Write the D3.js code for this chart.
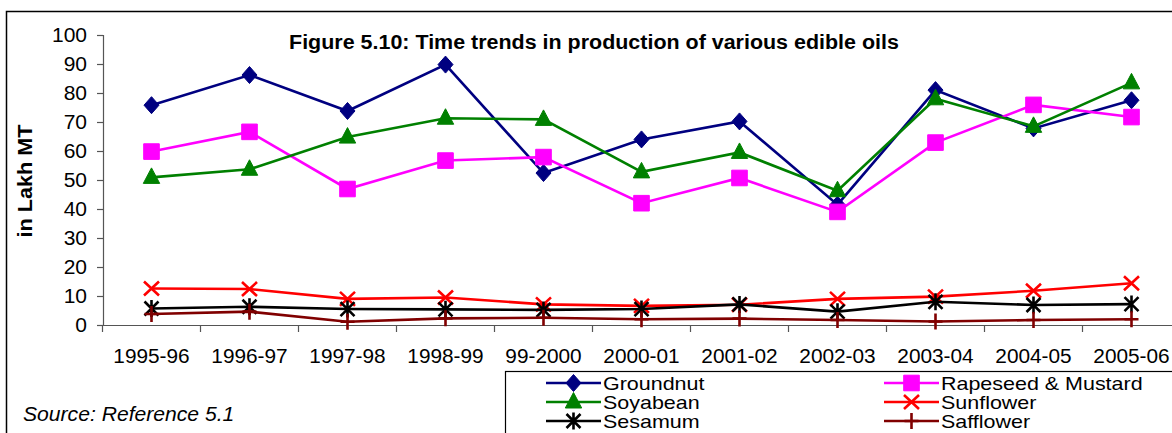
<!DOCTYPE html>
<html><head><meta charset="utf-8">
<script src="https://cdn.jsdelivr.net/npm/d3@7"></script>
<style>html,body{margin:0;padding:0;background:#fff;}svg{display:block;font-family:"Liberation Sans",Arial,sans-serif;}</style>
</head><body>
<svg id="chart" width="1172" height="433"></svg>
<script>
const categories = ["1995-96","1996-97","1997-98","1998-99","99-2000","2000-01","2001-02","2002-03","2003-04","2004-05","2005-06"];
const groundnut = [75.8, 86.2, 73.8, 89.8, 52.4, 64.0, 70.2, 41.5, 81.0, 67.8, 77.5];
const rapeseed  = [59.8, 66.6, 46.9, 56.7, 57.9, 42.0, 50.7, 39.0, 62.9, 75.9, 71.7];
const soyabean  = [50.9, 53.7, 64.8, 71.3, 70.9, 52.8, 59.5, 46.3, 78.0, 68.5, 83.5];
const sunflower = [12.6, 12.4, 9.0, 9.5, 7.1, 6.6, 7.0, 9.0, 9.8, 11.8, 14.4];
const sesamum   = [5.7, 6.3, 5.5, 5.4, 5.2, 5.5, 7.1, 4.6, 8.0, 6.9, 7.2];
const safflower = [3.8, 4.6, 1.1, 2.3, 2.5, 2.0, 2.2, 1.7, 1.2, 1.7, 2.0];
const seriesNames = ["Groundnut","Rapeseed & Mustard","Soyabean","Sunflower","Sesamum","Safflower"];
const yTicks = [0,10,20,30,40,50,60,70,80,90,100];
const titleText = "Figure 5.10: Time trends in production of various edible oils";
const yTitle = "in Lakh MT";
const sourceText = "Source: Reference 5.1";

const series = [
  {name: seriesNames[0], values: groundnut, color: "#000080", marker: "diamond"},
  {name: seriesNames[1], values: rapeseed,  color: "#FF00FF", marker: "square"},
  {name: seriesNames[2], values: soyabean,  color: "#008000", marker: "triangle"},
  {name: seriesNames[3], values: sunflower, color: "#FF0000", marker: "x"},
  {name: seriesNames[4], values: sesamum,   color: "#000000", marker: "star"},
  {name: seriesNames[5], values: safflower, color: "#800000", marker: "plus"}
];

const svg = d3.select("#chart");
const FS = 20;

// horizontally stretch text by a factor (the reference's glyphs are a little wide)
function stretch(sel, k) {
  sel.each(function() {
    const w = this.getComputedTextLength();
    d3.select(this).attr("textLength", w * k).attr("lengthAdjust", "spacingAndGlyphs");
  });
}

// outer border
svg.append("rect").attr("x",6.5).attr("y",11.5).attr("width",1200).attr("height",500)
  .attr("fill","#fff").attr("stroke","#000").attr("stroke-width",1.5);

const x = d3.scaleBand().domain(categories).range([102.5, 1180.5]).padding(0);
const y = d3.scaleLinear().domain([0,100]).range([325,35]);
const cx = c => x(c) + x.bandwidth()/2;

// y axis
const yAxis = svg.append("g").attr("transform","translate(103,0)")
  .call(d3.axisLeft(y).tickValues(yTicks).tickSize(6).tickPadding(10).tickFormat(d3.format("d")));
yAxis.select(".domain").attr("stroke","#555").attr("stroke-width",1.2);
yAxis.selectAll(".tick line").attr("stroke","#555").attr("stroke-width",1.2);
yAxis.selectAll("text").attr("font-size",FS).attr("fill","#000").attr("font-family","Liberation Sans, Arial, sans-serif");
stretch(yAxis.selectAll("text"), 1.05);

// x axis
const xAxis = svg.append("g").attr("transform","translate(0,325)")
  .call(d3.axisBottom(x).tickSize(0).tickPadding(24));
xAxis.select(".domain").attr("stroke","#555").attr("stroke-width",1.2);
xAxis.selectAll("text").attr("font-size",FS).attr("fill","#000").attr("font-family","Liberation Sans, Arial, sans-serif");
stretch(xAxis.selectAll("text"), 1.04);
// boundary ticks
xAxis.selectAll("line.bt").data(categories).enter().append("line").attr("class","bt")
  .attr("x1", c => x(c)).attr("x2", c => x(c)).attr("y1",0).attr("y2",7)
  .attr("stroke","#555").attr("stroke-width",1.2);

function markerPath(type) {
  switch(type) {
    case "diamond": return "M0,-8.5L7.5,0L0,8.5L-7.5,0Z";
    case "square": return "M-7.8,-7.8H7.8V7.8H-7.8Z";
    case "triangle": return "M0,-9.5L8.2,6L-8.2,6Z";
    case "x": return "M-7.5,-7L7.5,7M-7.5,7L7.5,-7";
    case "star": return "M-7,-7L7,7M-7,7L7,-7M0,-8.5V8.5";
    case "plus": return "M-7,0H7M0,-8V8";
  }
}
const filled = t => ["diamond","square","triangle"].includes(t);

function drawMarker(g, s, tx, ty) {
  const m = g.append("path").attr("d", markerPath(s.marker)).attr("transform",`translate(${tx},${ty})`);
  if (filled(s.marker)) m.attr("fill", s.color).attr("stroke", s.color).attr("stroke-width",1);
  else m.attr("fill","none").attr("stroke", s.color).attr("stroke-width",2.6);
}

const line = d3.line().x((d,i) => cx(categories[i])).y(d => y(d));
const plot = svg.append("g");
series.forEach(s => {
  const g = plot.append("g");
  g.append("path").datum(s.values).attr("d", line).attr("fill","none")
    .attr("stroke", s.color).attr("stroke-width",2.6);
  s.values.forEach((v,i) => drawMarker(g, s, cx(categories[i]), y(v)));
});

// title
const t = svg.append("text").attr("x",594).attr("y",49).attr("text-anchor","middle")
  .attr("font-size",19.5).attr("font-weight","bold").text(titleText);
stretch(t, 1.1);

// y title
const yt = svg.append("text").attr("transform","translate(32,181) rotate(-90)").attr("text-anchor","middle")
  .attr("font-size",21).attr("font-weight","bold").text(yTitle);
stretch(yt, 1.03);

// source
const st = svg.append("text").attr("x",23).attr("y",421).attr("font-size",20.5).attr("font-style","italic").text(sourceText);
stretch(st, 1.03);

// legend
svg.append("rect").attr("x",505.5).attr("y",371.5).attr("width",800).attr("height",100)
  .attr("fill","#fff").attr("stroke","#000").attr("stroke-width",1.2);
const legCols = [546, 884];
const legRows = [383, 402, 421];
series.forEach((s,i) => {
  const lx = legCols[i % 2], ly = legRows[Math.floor(i/2)];
  const g = svg.append("g");
  g.append("line").attr("x1",lx).attr("x2",lx+55).attr("y1",ly).attr("y2",ly).attr("stroke",s.color).attr("stroke-width",2.6);
  drawMarker(g, s, lx+27.5, ly);
  const tx = g.append("text").attr("x",lx+57).attr("y",ly+6.5).attr("font-size",18.5).text(s.name);
  stretch(tx, 1.16);
});
</script>
</body></html>
